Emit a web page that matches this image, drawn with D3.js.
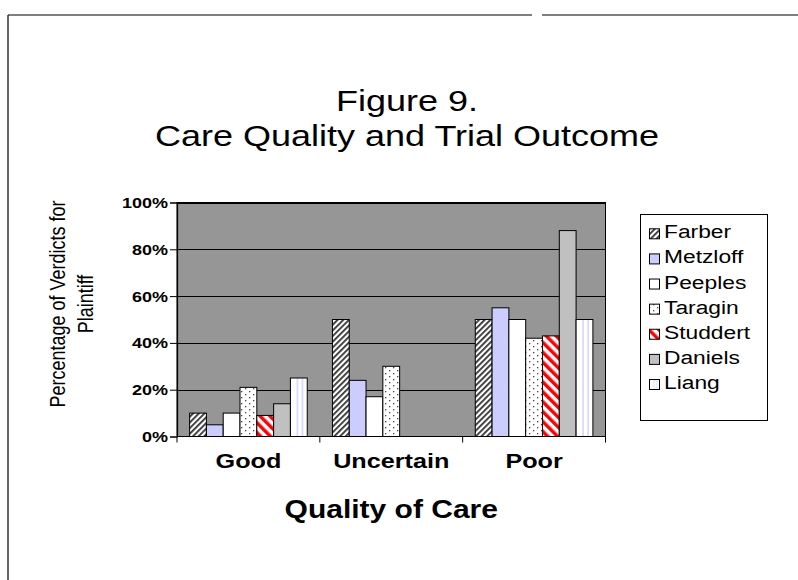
<!DOCTYPE html>
<html>
<head>
<meta charset="utf-8">
<script src="https://cdn.jsdelivr.net/npm/d3@7"></script>
<style>
  html, body { margin: 0; padding: 0; background: #fff; }
  svg { display: block; }
  text { font-family: "Liberation Sans", Arial, sans-serif; fill: #000; }
</style>
</head>
<body>
<svg id="chart" width="798" height="580"></svg>
<script>
// ---- data ----
const categories = ["Good", "Uncertain", "Poor"];
const seriesNames = ["Farber", "Metzloff", "Peeples", "Taragin", "Studdert", "Daniels", "Liang"];
const farber   = [10, 50, 50];
const metzloff = [5, 24, 55];
const peeples  = [10, 17, 50];
const taragin  = [21, 30, 42];
const studdert = [9, null, 43];
const daniels  = [14, null, 88];
const liang    = [25, null, 50];
const yTicks = [0, 20, 40, 60, 80, 100];
const titleLines = ["Figure 9.", "Care Quality and Trial Outcome"];
const yLabelLines = ["Percentage of Verdicts for", "Plaintiff"];
const xTitle = "Quality of Care";

const seriesValues = [farber, metzloff, peeples, taragin, studdert, daniels, liang];
const fills = ["url(#pFarber)", "#CCCCFF", "#FFFFFF", "url(#pTaragin)", "url(#pStuddert)", "#C0C0C0", "url(#pLiang)"];

const svg = d3.select("#chart");
const SX = 1.2; // horizontal stretch of the original rendering

// frame lines
svg.append("line").attr("x1", 8).attr("y1", 15).attr("x2", 532).attr("y2", 15).attr("stroke", "#000").attr("stroke-width", 1.2);
svg.append("line").attr("x1", 542).attr("y1", 15).attr("x2", 798).attr("y2", 15).attr("stroke", "#000").attr("stroke-width", 1.2);
svg.append("line").attr("x1", 8).attr("y1", 15).attr("x2", 8).attr("y2", 580).attr("stroke", "#000").attr("stroke-width", 1.2);

// patterns
const defs = svg.append("defs");
const pf = defs.append("pattern").attr("id", "pFarber").attr("patternUnits", "userSpaceOnUse")
  .attr("width", 4).attr("height", 4).attr("patternTransform", "rotate(45)");
pf.append("rect").attr("width", 4).attr("height", 4).attr("fill", "#fff");
pf.append("rect").attr("width", 1.8).attr("height", 4).attr("fill", "#333");

const pt = defs.append("pattern").attr("id", "pTaragin").attr("patternUnits", "userSpaceOnUse")
  .attr("width", 8).attr("height", 6);
pt.append("rect").attr("width", 8).attr("height", 6).attr("fill", "#fff");
pt.append("rect").attr("x", 1).attr("y", 1).attr("width", 1.3).attr("height", 1.3).attr("fill", "#444");
pt.append("rect").attr("x", 5).attr("y", 4).attr("width", 1.3).attr("height", 1.3).attr("fill", "#444");

const ps = defs.append("pattern").attr("id", "pStuddert").attr("patternUnits", "userSpaceOnUse")
  .attr("width", 7).attr("height", 7).attr("patternTransform", "rotate(-45)");
ps.append("rect").attr("width", 7).attr("height", 7).attr("fill", "#fff");
ps.append("rect").attr("width", 3.5).attr("height", 7).attr("fill", "#FF0000");

const pl = defs.append("pattern").attr("id", "pLiang").attr("patternUnits", "objectBoundingBox")
  .attr("patternContentUnits", "objectBoundingBox").attr("width", 1).attr("height", 1);
pl.append("rect").attr("width", 1).attr("height", 1).attr("fill", "#fff");
pl.append("rect").attr("x", 0.38).attr("width", 0.07).attr("height", 1).attr("fill", "#C8C8FF");
pl.append("rect").attr("x", 0.68).attr("width", 0.07).attr("height", 1).attr("fill", "#C8C8FF");

// plot geometry
const plot = { left: 177, right: 605.5, top: 202.5, bottom: 436.5 };

const x0 = d3.scaleBand().domain(categories).range([plot.left, plot.right]).padding(0);
const bw = x0.bandwidth() / (seriesNames.length + 1.5);
const x1 = d3.scaleBand().domain(seriesNames).range([0.75 * bw, x0.bandwidth() - 0.75 * bw]).padding(0);
const y = d3.scaleLinear().domain([0, 100]).range([plot.bottom, plot.top]);

// plot background
svg.append("rect").attr("x", plot.left).attr("y", plot.top)
  .attr("width", plot.right - plot.left).attr("height", plot.bottom - plot.top)
  .attr("fill", "#969696");

// gridlines
svg.append("g").selectAll("line").data(yTicks.filter(t => t > 0)).join("line")
  .attr("x1", plot.left).attr("x2", plot.right)
  .attr("y1", d => Math.round(y(d)) + 0.5).attr("y2", d => Math.round(y(d)) + 0.5)
  .attr("stroke", "#000").attr("stroke-width", 1);

// bars
const rows = [];
categories.forEach((c, ci) => {
  seriesNames.forEach((s, si) => {
    const v = seriesValues[si][ci];
    if (v !== null && v !== undefined) rows.push({ c, s, v, fill: fills[si] });
  });
});
svg.append("g").selectAll("rect").data(rows).join("rect")
  .attr("x", d => x0(d.c) + x1(d.s))
  .attr("y", d => y(d.v))
  .attr("width", x1.bandwidth())
  .attr("height", d => y(0) - y(d.v))
  .attr("fill", d => d.fill)
  .attr("stroke", "#000").attr("stroke-width", 1);

// plot border
svg.append("rect").attr("x", plot.left).attr("y", plot.top)
  .attr("width", plot.right - plot.left).attr("height", plot.bottom - plot.top)
  .attr("fill", "none").attr("stroke", "#000").attr("stroke-width", 1);

// y axis
const yAxis = d3.axisLeft(y).tickValues(yTicks).tickSize(7).tickFormat(() => "");
const gy = svg.append("g").attr("transform", `translate(${plot.left},0)`).call(yAxis);
gy.select(".domain").attr("stroke", "#000").attr("stroke-width", 1.2);
gy.selectAll(".tick line").attr("stroke", "#000");
yTicks.forEach(t => {
  svg.append("g").attr("transform", `translate(168,${y(t) + 5.5}) scale(${SX},1)`)
    .append("text").attr("text-anchor", "end")
    .style("font-size", "15px").style("font-weight", "bold")
    .text(t + "%");
});

// x axis (ticks at category boundaries)
const xBounds = categories.map(c => x0(c)).concat([plot.right]);
svg.append("line").attr("x1", plot.left).attr("x2", plot.right)
  .attr("y1", plot.bottom).attr("y2", plot.bottom).attr("stroke", "#000").attr("stroke-width", 1.2);
svg.append("g").selectAll("line").data(xBounds).join("line")
  .attr("x1", d => d).attr("x2", d => d)
  .attr("y1", plot.bottom).attr("y2", plot.bottom + 6)
  .attr("stroke", "#000").attr("stroke-width", 1);
categories.forEach(c => {
  svg.append("g").attr("transform", `translate(${x0(c) + x0.bandwidth() / 2},468) scale(${SX},1)`)
    .append("text").attr("text-anchor", "middle")
    .style("font-size", "21px").style("font-weight", "bold")
    .text(c);
});

// x title
svg.append("g").attr("transform", `translate(${(plot.left + plot.right) / 2},518) scale(${SX},1)`)
  .append("text").attr("text-anchor", "middle")
  .style("font-size", "25px").style("font-weight", "bold")
  .text(xTitle);

// y title (rotated, two lines)
const yLabX = [65, 93];
yLabelLines.forEach((t, i) => {
  svg.append("g").attr("transform", `translate(${yLabX[i]},304) scale(${SX},1) rotate(-90)`)
    .append("text").attr("text-anchor", "middle")
    .style("font-size", "18px")
    .text(t);
});

// title
const titleY = [111, 146];
titleLines.forEach((t, i) => {
  svg.append("g").attr("transform", `translate(407,${titleY[i]}) scale(${SX},1)`)
    .append("text").attr("text-anchor", "middle")
    .style("font-size", "30px")
    .text(t);
});

// legend
const lg = svg.append("g");
lg.append("rect").attr("x", 640.5).attr("y", 214.5).attr("width", 127).attr("height", 206)
  .attr("fill", "#fff").attr("stroke", "#000").attr("stroke-width", 1);
const legendY = d3.scalePoint().domain(seriesNames).range([238.3, 389]);
seriesNames.forEach((s, i) => {
  const by = legendY(s);
  lg.append("rect").attr("x", 649.5).attr("y", by - 9.5).attr("width", 10).attr("height", 10)
    .attr("fill", fills[i]).attr("stroke", "#000").attr("stroke-width", 1);
  lg.append("g").attr("transform", `translate(664,${by}) scale(${SX},1)`)
    .append("text").style("font-size", "19px").text(s);
});
</script>
</body>
</html>
